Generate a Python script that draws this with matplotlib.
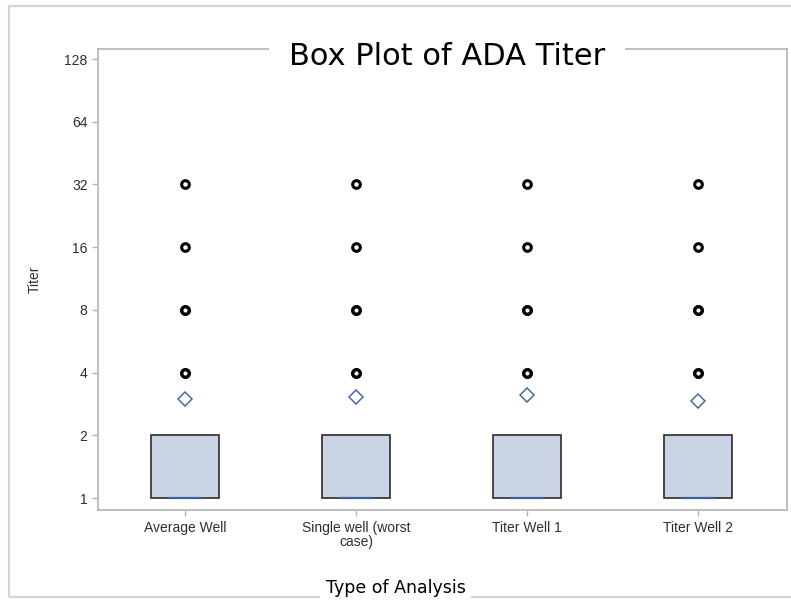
import matplotlib
matplotlib.use('Agg')
import matplotlib.pyplot as plt
from matplotlib.patches import Rectangle
from matplotlib.ticker import FixedLocator, NullLocator

# 分组与统计量
categories = ['Average Well', 'Single well (worst\ncase)', 'Titer Well 1', 'Titer Well 2']
q1 = [1, 1, 1, 1]
median = [1, 1, 1, 1]
q3 = [2, 2, 2, 2]
whisker_low = [1, 1, 1, 1]
whisker_high = [2, 2, 2, 2]
means = [2.99, 3.05, 3.12, 2.92]
outliers = [
    [4, 4, 8, 8, 16, 32],
    [4, 4, 8, 8, 16, 32],
    [4, 4, 8, 8, 16, 32],
    [4, 4, 8, 8, 16, 32],
]
y_ticks = [1, 2, 4, 8, 16, 32, 64, 128]

fig = plt.figure(figsize=(7.91, 6.01), dpi=100, facecolor='white')

# 外框
fig.patches.append(Rectangle((0.0114, 0.0067), 1.0, 0.983, transform=fig.transFigure,
                             fill=False, edgecolor='#d4d4d4', linewidth=1.6, zorder=0))

ax = fig.add_axes([0.1239, 0.1514, 0.8711, 0.7671])

stats = []
for i, name in enumerate(categories):
    stats.append(dict(label=name, q1=q1[i], med=median[i], q3=q3[i],
                      whislo=whisker_low[i], whishi=whisker_high[i],
                      mean=means[i], fliers=outliers[i]))

positions = list(range(len(categories)))
bp = ax.bxp(stats, positions=positions, widths=0.4, patch_artist=True,
            showmeans=True, showcaps=False,
            boxprops=dict(facecolor='#cad4e5', edgecolor='#2b2b2b', linewidth=1.2),
            medianprops=dict(color='#3d5f9e', linewidth=1.6),
            whiskerprops=dict(color='#2b2b2b', linewidth=1.0),
            meanprops=dict(marker='D', markersize=7, markerfacecolor='none',
                           markeredgecolor='#4a6aa6', markeredgewidth=1.1),
            flierprops=dict(marker='o', markersize=5.5, markerfacecolor='none',
                            markeredgecolor='black', markeredgewidth=2.2))

# 中位线只画中间一半
for pos, line in zip(positions, bp['medians']):
    line.set_xdata([pos - 0.1, pos + 0.1])

ax.set_yscale('log', base=2)
ax.set_ylim(0.876, 143)
ax.set_xlim(-0.51, 3.52)
ax.yaxis.set_major_locator(FixedLocator(y_ticks))
ax.yaxis.set_minor_locator(NullLocator())
ax.set_yticklabels([str(t) for t in y_ticks])
ax.set_xticks(positions)
ax.set_xticklabels(categories, linespacing=0.95)

for s in ax.spines.values():
    s.set_color('#b4b4b4')
    s.set_linewidth(1.2)
ax.tick_params(axis='both', colors='#b4b4b4', length=4, width=1.0,
               labelcolor='#2e2e2e', labelsize=10)
for lbl in ax.get_xticklabels() + ax.get_yticklabels():
    lbl.set_family('Liberation Sans')
ax.tick_params(axis='x', pad=4)

ax.set_ylabel('Titer', family='Liberation Sans', fontsize=10, color='#2e2e2e', labelpad=16)

# 标题和横轴标题（白底）
fig.text(0.565, 0.906, 'Box Plot of ADA Titer', ha='center', va='center',
         fontsize=22, family='DejaVu Sans', color='black',
         bbox=dict(facecolor='white', edgecolor='none', pad=14))
fig.text(0.5, 0.022, 'Type of Analysis', ha='center', va='center',
         fontsize=12.5, family='DejaVu Sans', color='black',
         bbox=dict(facecolor='white', edgecolor='none', pad=4))

fig.savefig('out.png', dpi=100, facecolor='white')
